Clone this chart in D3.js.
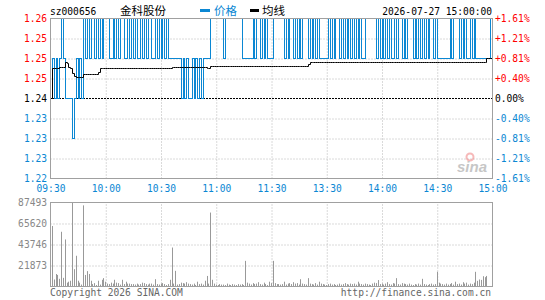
<!DOCTYPE html>
<html>
<head>
<meta charset="utf-8">
<script src="https://cdn.jsdelivr.net/npm/d3@7"></script>
<style>
  body { margin: 0; background: #fff; }
  svg { display: block; font-family: "DejaVu Sans Mono", monospace; }
</style>
</head>
<body>
<svg id="chart" width="545" height="300"></svg>
<script>
const stockCode = "sz000656";
const stockName = "金科股份";
const dateTime = "2026-07-27 15:00:00";
const legendNames = ["价格", "均线"];
const preClose = 1.24;
const priceTicks = [1.26, 1.255, 1.25, 1.245, 1.24, 1.235, 1.23, 1.225, 1.22];
const priceLabels = ["1.26", "1.25", "1.25", "1.25", "1.24", "1.23", "1.23", "1.23", "1.22"];
const pctLabels = ["+1.61%", "+1.21%", "+0.81%", "+0.40%", "0.00%", "-0.40%", "-0.81%", "-1.21%", "-1.61%"];
const timeIdx = [0, 30, 60, 90, 120, 150, 180, 210, 240];
const timeLabels = ["09:30", "10:00", "10:30", "11:00", "11:30", "13:30", "14:00", "14:30", "15:00"];
const volTicks = [87493, 65620, 43746, 21873];

// one value per minute, 09:30-11:30 then 13:01-15:00
const price = [
  1.24,1.25,1.24,1.25,1.24,1.25,1.26,1.25,1.24,1.24,
  1.24,1.24,1.23,1.24,1.25,1.24,1.25,1.24,1.26,1.25,
  1.26,1.25,1.26,1.26,1.25,1.26,1.25,1.26,1.25,1.26,
  1.26,1.26,1.25,1.25,1.26,1.25,1.26,1.25,1.26,1.26,
  1.25,1.25,1.26,1.25,1.26,1.25,1.26,1.25,1.25,1.26,
  1.25,1.26,1.25,1.26,1.26,1.25,1.25,1.26,1.25,1.26,
  1.25,1.26,1.25,1.26,1.25,1.25,1.25,1.25,1.25,1.25,
  1.25,1.24,1.25,1.24,1.25,1.24,1.24,1.25,1.24,1.25,
  1.24,1.25,1.24,1.25,1.25,1.25,1.25,1.26,1.26,1.26,
  1.26,1.26,1.26,1.26,1.25,1.26,1.26,1.26,1.26,1.26,
  1.26,1.26,1.26,1.26,1.25,1.25,1.25,1.25,1.25,1.25,
  1.26,1.25,1.26,1.26,1.25,1.26,1.25,1.26,1.25,1.25,
  1.25,1.26,1.26,1.26,1.26,1.26,1.26,1.25,1.26,1.25,
  1.26,1.26,1.25,1.26,1.25,1.26,1.25,1.26,1.26,1.26,
  1.25,1.26,1.25,1.26,1.25,1.26,1.25,1.25,1.25,1.25,
  1.25,1.26,1.25,1.26,1.25,1.26,1.26,1.25,1.26,1.25,
  1.26,1.25,1.26,1.25,1.26,1.25,1.26,1.25,1.26,1.25,
  1.25,1.26,1.26,1.26,1.26,1.26,1.26,1.25,1.26,1.25,
  1.26,1.25,1.26,1.25,1.26,1.25,1.25,1.26,1.25,1.26,
  1.26,1.25,1.26,1.25,1.26,1.26,1.26,1.25,1.26,1.25,
  1.26,1.25,1.26,1.25,1.26,1.25,1.26,1.26,1.25,1.26,
  1.25,1.25,1.25,1.25,1.25,1.25,1.25,1.26,1.25,1.26,
  1.26,1.26,1.25,1.26,1.25,1.26,1.25,1.25,1.26,1.25,
  1.26,1.25,1.25,1.25,1.25,1.25,1.25,1.25,1.25,1.26,
  1.26
];

const avgPrice = [
  1.2400,1.2474,1.2474,1.2474,1.2474,1.2478,1.2478,1.2478,1.2491,1.2487,
  1.2478,1.2474,1.2462,1.2455,1.2453,1.2453,1.2453,1.2453,1.2460,1.2460,
  1.2460,1.2460,1.2460,1.2460,1.2460,1.2460,1.2466,1.2474,1.2474,1.2474,
  1.2474,1.2474,1.2474,1.2474,1.2474,1.2474,1.2474,1.2474,1.2474,1.2474,
  1.2474,1.2474,1.2474,1.2474,1.2474,1.2474,1.2474,1.2474,1.2474,1.2474,
  1.2474,1.2474,1.2474,1.2474,1.2474,1.2474,1.2474,1.2474,1.2474,1.2474,
  1.2474,1.2474,1.2474,1.2474,1.2474,1.2474,1.2478,1.2478,1.2478,1.2478,
  1.2478,1.2478,1.2478,1.2478,1.2478,1.2478,1.2478,1.2478,1.2478,1.2478,
  1.2478,1.2478,1.2478,1.2478,1.2478,1.2474,1.2474,1.2479,1.2479,1.2479,
  1.2479,1.2479,1.2479,1.2479,1.2479,1.2479,1.2479,1.2479,1.2479,1.2479,
  1.2479,1.2479,1.2479,1.2479,1.2479,1.2479,1.2479,1.2479,1.2479,1.2479,
  1.2479,1.2479,1.2479,1.2479,1.2479,1.2479,1.2479,1.2479,1.2479,1.2479,
  1.2479,1.2479,1.2479,1.2479,1.2479,1.2479,1.2479,1.2479,1.2479,1.2479,
  1.2479,1.2479,1.2479,1.2479,1.2479,1.2479,1.2479,1.2479,1.2479,1.2479,
  1.2485,1.2491,1.2491,1.2491,1.2491,1.2491,1.2491,1.2491,1.2491,1.2491,
  1.2491,1.2491,1.2491,1.2491,1.2491,1.2491,1.2491,1.2491,1.2491,1.2491,
  1.2491,1.2491,1.2491,1.2491,1.2491,1.2491,1.2491,1.2491,1.2491,1.2491,
  1.2491,1.2491,1.2491,1.2491,1.2491,1.2491,1.2491,1.2491,1.2491,1.2491,
  1.2491,1.2491,1.2491,1.2491,1.2491,1.2491,1.2491,1.2491,1.2491,1.2491,
  1.2491,1.2491,1.2491,1.2491,1.2491,1.2491,1.2491,1.2491,1.2491,1.2491,
  1.2491,1.2491,1.2491,1.2491,1.2491,1.2491,1.2491,1.2491,1.2491,1.2491,
  1.2491,1.2491,1.2491,1.2491,1.2491,1.2491,1.2491,1.2491,1.2491,1.2491,
  1.2491,1.2491,1.2491,1.2491,1.2491,1.2491,1.2491,1.2491,1.2491,1.2491,
  1.2491,1.2491,1.2491,1.2491,1.2491,1.2491,1.2491,1.2499,1.2499,1.2499,
  1.2499
];

const volume = [
  11000,63000,7300,13000,12000,8000,57000,9000,49000,4000,
  5000,6000,87493,18000,32000,6000,4000,2000,84500,12000,
  16000,13000,6000,2500,3500,1500,6000,2000,7000,8700,
  5000,3000,2500,4000,3000,7000,4000,3500,2000,7000,
  2500,5000,3000,3000,2500,2500,2000,3000,2000,2500,
  4000,3500,2500,2000,3000,3000,2000,7600,2500,2000,
  3000,3500,2500,1500,2500,7000,40600,3000,16300,2000,
  2500,4000,3500,3000,4500,3000,2500,2000,3000,1500,
  5000,2500,3000,2000,6000,11000,3000,77000,7000,3000,
  2000,1500,2500,2000,2000,1500,3000,2000,1500,2500,
  2000,1500,2500,2000,2500,1500,26700,4000,3000,2000,
  3500,2500,3000,4500,2500,2000,4000,2500,1500,5000,
  3500,26700,3500,2500,2500,2000,2500,5000,2000,3000,
  3500,2500,4500,3000,3500,2000,7600,3000,2500,2000,
  8700,3000,2500,2000,3500,2000,5000,3000,2500,2000,
  1500,2500,3000,2000,2500,1500,2000,3000,2000,2500,
  3500,2500,2000,3000,2500,3000,2000,5000,3000,2500,
  2000,3000,2500,2000,1500,3000,4000,3500,6700,2500,
  3000,2000,3000,4500,2500,2000,3500,3000,8700,2500,
  2000,3500,3000,2500,2000,3000,2000,1500,2500,2000,
  3000,2000,8000,2500,2000,1500,2500,3000,2000,2500,
  15300,4000,3000,2500,2000,3000,2000,2500,3500,2000,
  5000,2500,3000,2000,4500,3000,4000,2000,3000,2500,
  4000,15300,5900,7300,6900,10700,9700,11000,0,0,
  0
];

const blue = "#0b87d3";
const red = "#ff0000";
const gridColor = "#b4b4b4";
const frameColor = "#a0a0a0";

const svg = d3.select("#chart");
const plotL = 50, plotR = 492, plotT = 18, plotB = 178;
const volT = 202, volB = 286;

const x = d3.scaleLinear().domain([0, 240]).range([plotL + 0.5, plotR + 0.5]);
const y = d3.scaleLinear().domain([1.22, 1.26]).range([plotB + 0.5, plotT + 0.5]);
const yv = d3.scaleLinear().domain([0, 87493]).range([volB + 0.5, volT + 0.5]);

const labelColor = (v) => (v > preClose + 1e-9 ? red : v < preClose - 1e-9 ? blue : "#000");
const px = (i) => Math.round(x(i) - 0.5) + 0.5;

// grid lines - price panel
svg.append("g")
  .attr("transform", `translate(0,${plotB + 0.5})`)
  .call(d3.axisBottom(x).tickValues(timeIdx.slice(1, -1)).tickSize(-(plotB - plotT)).tickFormat(""))
  .call(g => g.select(".domain").remove());
svg.append("g")
  .attr("transform", `translate(${plotL + 0.5},0)`)
  .call(d3.axisRight(y).tickValues(priceTicks.slice(1, -1).filter(d => d !== preClose)).tickSize(plotR - plotL).tickFormat(""))
  .call(g => g.select(".domain").remove());

// grid lines - volume panel
svg.append("g")
  .attr("transform", `translate(0,${volB + 0.5})`)
  .call(d3.axisBottom(x).tickValues(timeIdx.slice(1, -1)).tickSize(-(volB - volT)).tickFormat(""))
  .call(g => g.select(".domain").remove());
svg.append("g")
  .attr("transform", `translate(${plotL + 0.5},0)`)
  .call(d3.axisRight(yv).tickValues(volTicks.slice(1)).tickSize(plotR - plotL).tickFormat(""))
  .call(g => g.select(".domain").remove());

svg.selectAll(".tick line")
  .attr("stroke", gridColor)
  .attr("stroke-dasharray", "1,2");

// pre-close line
svg.append("line")
  .attr("x1", plotL).attr("x2", plotR)
  .attr("y1", y(preClose)).attr("y2", y(preClose))
  .attr("stroke", "#000")
  .attr("stroke-dasharray", "2,1");

// volume bars
svg.append("g")
  .selectAll("line")
  .data(volume)
  .join("line")
  .attr("x1", (d, i) => px(i))
  .attr("x2", (d, i) => px(i))
  .attr("y1", yv(0))
  .attr("y2", d => yv(d))
  .attr("stroke", "#999");

// price line
svg.append("path")
  .datum(price)
  .attr("fill", "none")
  .attr("stroke", blue)
  .attr("stroke-width", 1)
  .attr("shape-rendering", "crispEdges")
  .attr("d", d3.line().x((d, i) => px(i)).y(d => y(d)).curve(d3.curveStepAfter));

// average line
svg.append("path")
  .datum(avgPrice)
  .attr("fill", "none")
  .attr("stroke", "#000")
  .attr("stroke-width", 1)
  .attr("d", d3.line().x((d, i) => px(i)).y(d => Math.round(y(d) - 0.5) + 0.5).curve(d3.curveStepAfter));

// watermark
const logo = svg.append("g").attr("opacity", 0.55);
logo.append("circle").attr("cx", 470).attr("cy", 157).attr("r", 3.5)
  .attr("fill", "none").attr("stroke", "#f08080").attr("stroke-width", 2);
logo.append("text").attr("x", 457).attr("y", 172)
  .attr("font-family", "Liberation Sans, sans-serif").attr("font-style", "italic")
  .attr("font-weight", "bold").attr("font-size", 15).attr("fill", "#999").text("sina");

// frames
svg.append("rect").attr("x", plotL + 0.5).attr("y", plotT + 0.5)
  .attr("width", plotR - plotL).attr("height", plotB - plotT)
  .attr("fill", "none").attr("stroke", frameColor);
svg.append("rect").attr("x", plotL + 0.5).attr("y", volT + 0.5)
  .attr("width", plotR - plotL).attr("height", volB - volT)
  .attr("fill", "none").attr("stroke", frameColor);

// left price labels
svg.append("g")
  .attr("transform", `translate(${plotL - 3},0)`)
  .call(d3.axisLeft(y).tickValues(priceTicks).tickSize(0).tickPadding(0).tickFormat((d, i) => priceLabels[i]))
  .call(g => g.select(".domain").remove())
  .call(g => g.selectAll("text")
    .attr("font-family", "DejaVu Sans Mono, monospace").attr("font-size", 9.6)
    .attr("fill", d => labelColor(d)));

// right percent labels
svg.append("g")
  .attr("transform", `translate(${plotR + 3},0)`)
  .call(d3.axisRight(y).tickValues(priceTicks).tickSize(0).tickPadding(0).tickFormat((d, i) => pctLabels[i]))
  .call(g => g.select(".domain").remove())
  .call(g => g.selectAll("text")
    .attr("font-family", "DejaVu Sans Mono, monospace").attr("font-size", 9.6)
    .attr("fill", d => labelColor(d)));

// time labels
svg.append("g")
  .attr("transform", `translate(0,${plotB})`)
  .call(d3.axisBottom(x).tickValues(timeIdx).tickSize(0).tickPadding(7).tickFormat((d, i) => timeLabels[i]))
  .call(g => g.select(".domain").remove())
  .call(g => g.selectAll("text")
    .attr("font-family", "DejaVu Sans Mono, monospace").attr("font-size", 9.6)
    .attr("fill", blue));

// volume labels
svg.append("g")
  .attr("transform", `translate(${plotL - 3},0)`)
  .call(d3.axisLeft(yv).tickValues(volTicks).tickSize(0).tickPadding(0).tickFormat(d3.format("d")))
  .call(g => g.select(".domain").remove())
  .call(g => g.selectAll("text")
    .attr("font-family", "DejaVu Sans Mono, monospace").attr("font-size", 9.6)
    .attr("fill", "#888"));

// header
svg.append("text").attr("x", plotL).attr("y", 15)
  .attr("font-size", 9.6).attr("fill", "#000").text(stockCode);
svg.append("text").attr("x", 120).attr("y", 15)
  .attr("font-family", "Noto Sans CJK SC, sans-serif").attr("font-size", 11.5).attr("fill", "#000").text(stockName);
svg.append("rect").attr("x", 200).attr("y", 9).attr("width", 10).attr("height", 3).attr("fill", blue);
svg.append("text").attr("x", 214).attr("y", 15)
  .attr("font-family", "Noto Sans CJK SC, sans-serif").attr("font-size", 11.5).attr("fill", blue).text(legendNames[0]);
svg.append("rect").attr("x", 250).attr("y", 9).attr("width", 9).attr("height", 3).attr("fill", "#000");
svg.append("text").attr("x", 262).attr("y", 15)
  .attr("font-family", "Noto Sans CJK SC, sans-serif").attr("font-size", 11.5).attr("fill", "#000").text(legendNames[1]);
svg.append("text").attr("x", plotR).attr("y", 15).attr("text-anchor", "end")
  .attr("font-size", 9.6).attr("fill", "#000").text(dateTime);

// footer
svg.append("text").attr("x", plotL).attr("y", 296)
  .attr("font-size", 9.6).attr("fill", "#666").text("Copyright 2026 SINA.COM");
svg.append("text").attr("x", plotR - 1).attr("y", 296).attr("text-anchor", "end")
  .attr("font-size", 9.6).attr("fill", "#666").text("http://finance.sina.com.cn");
</script>
</body>
</html>
